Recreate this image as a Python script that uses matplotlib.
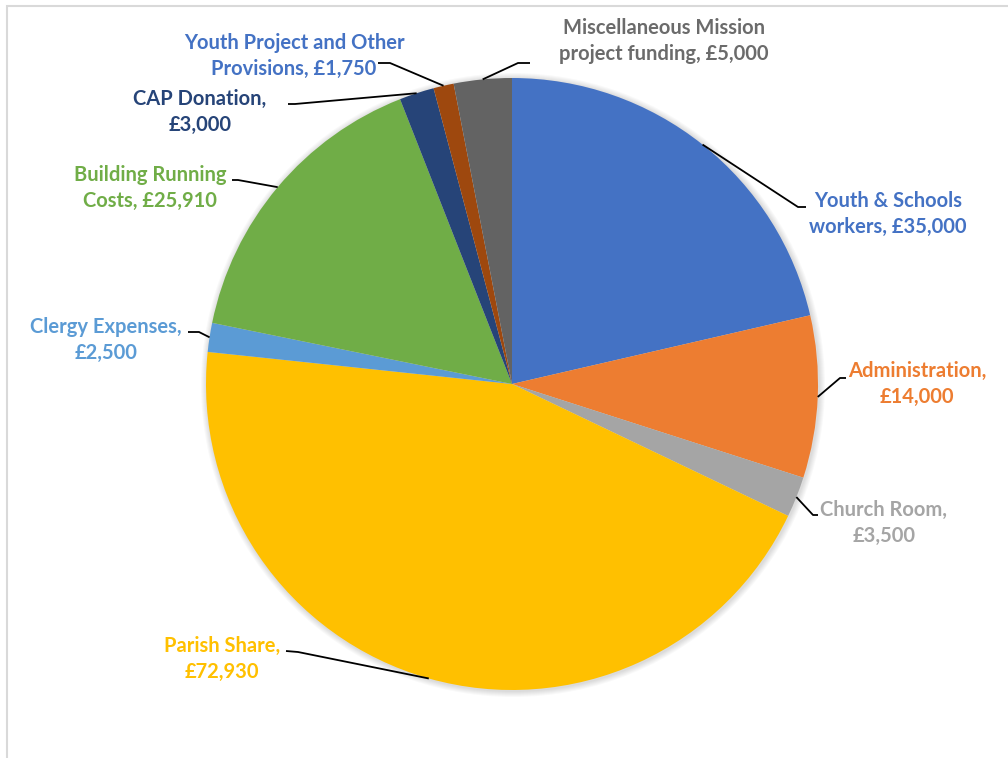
import numpy as np
import matplotlib
matplotlib.use("Agg")
import matplotlib.pyplot as plt
from matplotlib.patches import Rectangle, Circle

# Budget categories, clockwise from 12 o'clock
labels = ["Youth & Schools\nworkers, £35,000", "Administration,\n£14,000",
          "Church Room,\n£3,500", "Parish Share,\n£72,930",
          "Clergy Expenses,\n£2,500", "Building Running\nCosts, £25,910",
          "CAP Donation,\n£3,000", "Youth Project and Other\nProvisions, £1,750",
          "Miscellaneous Mission\nproject funding, £5,000"]
values = [35000, 14000, 3500, 72930, 2500, 25910, 3000, 1750, 5000]
colors = ["#4472C4", "#ED7D31", "#A5A5A5", "#FFC000", "#5B9BD5",
          "#70AD47", "#264478", "#9E480E", "#636363"]
text_colors = ["#4472C4", "#ED7D31", "#A5A5A5", "#FFC000", "#5B9BD5",
               "#70AD47", "#264478", "#4472C4", "#6B6B6B"]

W, H = 1008, 758
# label layout in pixel coords (top-left origin): text centre, elbow, line end
text_pos = [(888, 214), (917, 384), (884, 523), (222, 659), (106, 340),
            (150, 188), (200, 112), (294, 56), (664, 41)]
elbow = [(798, 207), (840, 378), (813, 515), (298, 652), (199, 332),
         (238, 180), (295, 104), (390, 63), (518, 63)]
line_end = [(806, 207), (846, 378), (818, 515), (286, 651), (188, 332),
            (232, 180), (288, 104), (378, 63), (530, 63)]

plt.rcParams['font.family'] = ['Lato', 'DejaVu Sans']

fig = plt.figure(figsize=(W / 100, H / 100), dpi=100)
ax = fig.add_axes([0, 0, 1, 1])

# chart frame (only top and left visible in the crop)
fig.patches.append(Rectangle((7 / W, -0.1), 1.2, 1 - 6 / H + 0.1, transform=fig.transFigure,
                             fill=False, edgecolor="#D9D9D9", linewidth=1.5))

cx, cy, r = 512, H - 384, 306

# soft shadow around the pie
for k in range(6, 0, -1):
    ax.add_patch(Circle((cx + 1, cy - 1), r + k, color="black", alpha=0.025, lw=0, zorder=0))

wedges, _ = ax.pie(values, colors=colors, startangle=90, counterclock=False,
                   center=(cx, cy), radius=r, frame=True,
                   wedgeprops=dict(linewidth=0, zorder=1))
ax.set_xlim(0, W)
ax.set_ylim(0, H)
ax.set_aspect('equal')
ax.axis('off')

for w, lab, tc, tp, el, le in zip(wedges, labels, text_colors, text_pos, elbow, line_end):
    mid = np.deg2rad((w.theta1 + w.theta2) / 2)
    sx, sy = cx + r * np.cos(mid), cy + r * np.sin(mid)
    ax.plot([sx, el[0], le[0]], [sy, H - el[1], H - le[1]], color="black", lw=1.3,
            solid_capstyle='butt', zorder=2)
    ax.text(tp[0], H - tp[1], lab, color=tc, ha="center", va="center",
            fontsize=14.5, fontweight="bold", linespacing=1.4, zorder=3)

fig.savefig("out.png", dpi=100)
